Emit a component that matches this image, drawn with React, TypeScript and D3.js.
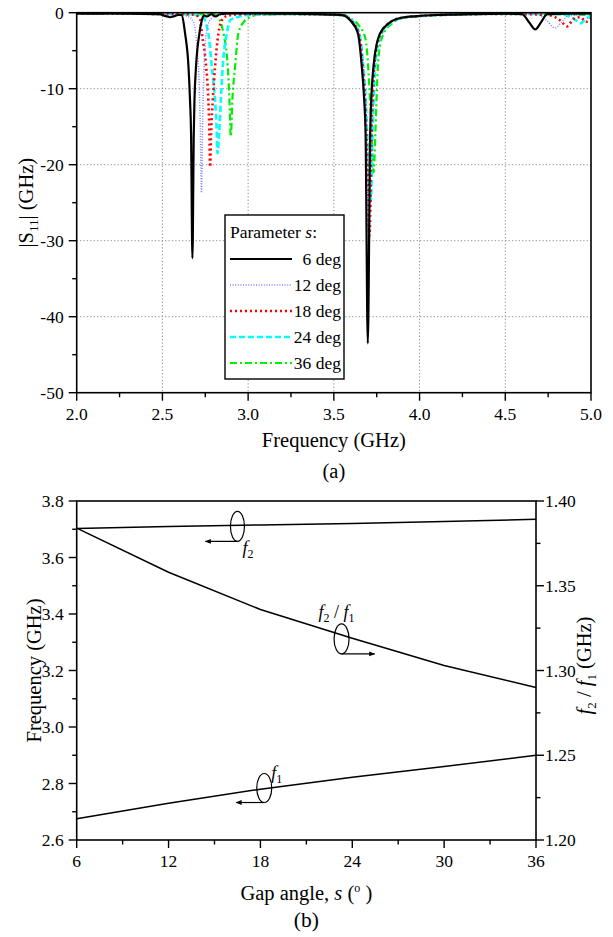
import React from 'react';
import * as d3 from 'd3';

// ---------- Data (a): |S11| vs frequency ----------
const FREQ_TICKS = [2.0, 2.5, 3.0, 3.5, 4.0, 4.5, 5.0];
const FREQ_MINOR = [2.25, 2.75, 3.25, 3.75, 4.25, 4.75];
const S11_TICKS = [0, -10, -20, -30, -40, -50];
const S11_MINOR = [-5, -15, -25, -35, -45];
const SERIES_NAMES = ['6 deg', '12 deg', '18 deg', '24 deg', '36 deg'];

const S_6: [number, number][] = [
  [2.0, -0.1], [2.1, -0.12], [2.2, -0.1], [2.3, -0.12], [2.4, -0.15], [2.48, -0.2], [2.52, -0.45], [2.545, -0.6],
  [2.57, -0.45], [2.59, -0.3], [2.613, -0.3], [2.632, -2.7], [2.652, -7.1], [2.661, -11.5], [2.667, -15.8],
  [2.675, -32.3], [2.683, -15.8], [2.687, -11.5], [2.696, -7.1], [2.716, -2.7], [2.73, -1.0], [2.743, -0.35],
  [2.76, -0.5], [2.785, -0.2], [2.81, -0.5], [2.835, -0.2], [2.9, -0.1], [3.0, -0.1], [3.1, -0.1], [3.2, -0.12],
  [3.3, -0.15], [3.4, -0.2], [3.5, -0.25], [3.555, -0.35], [3.595, -1.0], [3.64, -2.7], [3.663, -7.1],
  [3.677, -11.5], [3.685, -15.8], [3.698, -43.5], [3.712, -15.8], [3.718, -11.5], [3.731, -7.1], [3.751, -4.0],
  [3.77, -2.7], [3.82, -1.4], [3.887, -0.7], [3.985, -0.45], [4.1, -0.3], [4.2, -0.25], [4.3, -0.2], [4.4, -0.15],
  [4.5, -0.12], [4.598, -0.2], [4.64, -1.3], [4.675, -2.2], [4.71, -1.2], [4.744, -0.2], [4.8, -0.15], [4.9, -0.12],
  [5.0, -0.1],
];
const S_12: [number, number][] = [
  [2.0, -0.1], [2.2, -0.12], [2.4, -0.15], [2.5, -0.2], [2.6, -0.3], [2.65, -0.5], [2.68, -1.2], [2.7, -4.0],
  [2.712, -8.0], [2.72, -14.0], [2.728, -23.7], [2.735, -14.0], [2.742, -8.0], [2.75, -4.0], [2.762, -2.0],
  [2.78, -0.9], [2.81, -0.4], [2.9, -0.2], [3.0, -0.15], [3.2, -0.15], [3.4, -0.2], [3.5, -0.25], [3.555, -0.35],
  [3.6, -1.0], [3.645, -2.7], [3.668, -7.0], [3.682, -11.5], [3.69, -16.0], [3.704, -33.0], [3.716, -16.0],
  [3.722, -11.5], [3.734, -7.0], [3.753, -4.0], [3.773, -2.7], [3.82, -1.4], [3.89, -0.7], [3.99, -0.45],
  [4.2, -0.25], [4.5, -0.15], [4.68, -0.2], [4.74, -1.0], [4.79, -2.0], [4.83, -1.2], [4.87, -0.4], [4.95, -0.3],
  [5.0, -0.2],
];
const S_18: [number, number][] = [
  [2.0, -0.1], [2.2, -0.12], [2.4, -0.15], [2.55, -0.2], [2.65, -0.2], [2.7, -0.4], [2.72, -0.9], [2.73, -2.7],
  [2.755, -7.1], [2.768, -11.5], [2.774, -15.8], [2.778, -20.3], [2.784, -15.8], [2.794, -11.5], [2.807, -7.1],
  [2.827, -2.7], [2.846, -1.0], [2.88, -0.4], [2.95, -0.2], [3.1, -0.15], [3.3, -0.18], [3.5, -0.25],
  [3.555, -0.35], [3.6, -1.0], [3.645, -2.7], [3.668, -7.0], [3.682, -11.5], [3.69, -16.0], [3.708, -29.3],
  [3.72, -16.0], [3.726, -11.5], [3.736, -7.0], [3.755, -4.0], [3.775, -2.7], [3.82, -1.4], [3.89, -0.7],
  [3.99, -0.45], [4.2, -0.25], [4.5, -0.15], [4.75, -0.3], [4.82, -1.0], [4.86, -1.8], [4.9, -0.8], [4.94, -0.6],
  [4.97, -1.2], [5.0, -0.8],
];
const S_24: [number, number][] = [
  [2.0, -0.1], [2.2, -0.12], [2.4, -0.15], [2.6, -0.2], [2.7, -0.3], [2.74, -0.6], [2.755, -1.5], [2.768, -2.7],
  [2.788, -7.1], [2.807, -11.5], [2.817, -15.8], [2.821, -18.5], [2.831, -15.8], [2.841, -11.5], [2.852, -7.1],
  [2.876, -2.7], [2.895, -1.0], [2.95, -0.5], [3.0, -0.3], [3.2, -0.18], [3.4, -0.2], [3.5, -0.25], [3.56, -0.35],
  [3.6, -0.9], [3.648, -2.7], [3.672, -7.0], [3.686, -11.5], [3.695, -16.0], [3.716, -24.7], [3.726, -16.0],
  [3.732, -11.5], [3.742, -7.0], [3.76, -4.0], [3.78, -2.7], [3.83, -1.4], [3.9, -0.7], [4.0, -0.45],
  [4.2, -0.25], [4.5, -0.15], [4.8, -0.2], [4.85, -0.3], [4.9, -0.8], [4.94, -1.4], [4.97, -0.8], [5.0, -0.5],
];
const S_36: [number, number][] = [
  [2.0, -0.1], [2.2, -0.12], [2.4, -0.15], [2.6, -0.15], [2.75, -0.2], [2.8, -0.2], [2.83, -0.8], [2.856, -2.7],
  [2.881, -7.1], [2.891, -11.5], [2.899, -16.3], [2.908, -11.5], [2.924, -7.1], [2.943, -2.7], [2.983, -1.0],
  [3.01, -0.6], [3.05, -0.3], [3.2, -0.2], [3.4, -0.2], [3.5, -0.25], [3.56, -0.35], [3.6, -0.8], [3.65, -1.8],
  [3.685, -3.5], [3.7, -7.0], [3.712, -12.0], [3.72, -16.0], [3.732, -21.0], [3.742, -16.0], [3.748, -12.0],
  [3.757, -7.0], [3.772, -4.0], [3.792, -2.7], [3.84, -1.4], [3.9, -0.7], [4.0, -0.45], [4.2, -0.25],
  [4.5, -0.15], [4.8, -0.2], [5.0, -0.3],
];
const SERIES_DATA = [S_6, S_12, S_18, S_24, S_36];

// ---------- Data (b): resonant frequencies vs gap angle ----------
const GAP_ANGLES = [6, 12, 18, 24, 30, 36];
const F1 = [2.675, 2.73, 2.78, 2.822, 2.86, 2.9];
const F2 = [3.703, 3.71, 3.715, 3.72, 3.727, 3.735];
const RATIO = [1.384, 1.358, 1.336, 1.319, 1.303, 1.29];
const GAP_TICKS = [6, 12, 18, 24, 30, 36];
const GAP_MINOR = [9, 15, 21, 27, 33];
const FREQB_TICKS = [2.6, 2.8, 3.0, 3.2, 3.4, 3.6, 3.8];
const FREQB_MINOR = [2.7, 2.9, 3.1, 3.3, 3.5, 3.7];
const RATIO_TICKS = [1.2, 1.25, 1.3, 1.35, 1.4];
const RATIO_MINOR = [1.225, 1.275, 1.325, 1.375];

const FONT = "'Liberation Serif', 'Times New Roman', 'DejaVu Serif', serif";

const STYLES = [
  { stroke: '#000000', width: 2.2, dash: undefined as string | undefined },
  { stroke: '#8080ff', width: 1.5, dash: '1,1.6' },
  { stroke: '#ff0000', width: 2.6, dash: '2,3' },
  { stroke: '#00ffff', width: 2.6, dash: '6,3' },
  { stroke: '#00ee00', width: 2.2, dash: '7,3,2,3' },
];

export default function App() {
  // chart (a)
  const xA = d3.scaleLinear().domain([2, 5]).range([76.7, 591]);
  const yA = d3.scaleLinear().domain([0, -50]).range([12.7, 392.7]);
  const lineA = d3
    .line<[number, number]>()
    .x((d) => xA(d[0]))
    .y((d) => yA(d[1]))
    .curve(d3.curveMonotoneX);

  // chart (b)
  const xB = d3.scaleLinear().domain([6, 36]).range([76.7, 536]);
  const yL = d3.scaleLinear().domain([2.6, 3.8]).range([840, 501]);
  const yR = d3.scaleLinear().domain([1.2, 1.4]).range([840, 501]);
  const lineL = (vals: number[]) =>
    d3.line<number>().x((_, i) => xB(GAP_ANGLES[i])).y((v) => yL(v))(vals) || '';
  const lineR = (vals: number[]) =>
    d3.line<number>().x((_, i) => xB(GAP_ANGLES[i])).y((v) => yR(v))(vals) || '';

  const [ax0, ax1] = xA.range();
  const [ay0, ay1] = yA.range();
  const [bx0, bx1] = xB.range();
  const by0 = yL(3.8);
  const by1 = yL(2.6);

  const tickFs = 17.5;
  const titleFs = 20.5;
  const txt = { fontFamily: FONT };

  // legend
  const legX = 225, legY = 215, legW = 119, legH = 164;

  // annotations (data coordinates)
  const f2Ann = { s: 16.5, v: 3.71 };
  const rAnn = { s: 23.3, v: 1.3186 };
  const f1Ann = { s: 18.25, v: 2.784 };

  return (
    <svg
      width={613}
      height={937}
      style={{ position: 'absolute', left: 0, top: 0, background: '#fff', fontFamily: FONT }}
    >
      <defs>
        <clipPath id="clipA">
          <rect x={ax0} y={ay0} width={ax1 - ax0} height={ay1 - ay0} />
        </clipPath>
        <marker id="arr" viewBox="0 0 10 10" refX="9" refY="5" markerWidth="9" markerHeight="6" orient="auto" markerUnits="userSpaceOnUse">
          <path d="M0,1 L10,5 L0,9 Z" fill="#000" />
        </marker>
      </defs>
      <rect x={0} y={0} width={613} height={937} fill="#fff" />

      {/* ===== Chart (a) ===== */}
      <g stroke="#8a8a8a" strokeWidth={1} strokeDasharray="1.2,2.2">
        {FREQ_TICKS.slice(1, -1).map((t) => (
          <line key={'gx' + t} x1={xA(t)} x2={xA(t)} y1={ay0} y2={ay1} />
        ))}
        {S11_TICKS.slice(1, -1).map((t) => (
          <line key={'gy' + t} x1={ax0} x2={ax1} y1={yA(t)} y2={yA(t)} />
        ))}
      </g>
      <g clipPath="url(#clipA)" fill="none">
        {[4, 3, 2, 1, 0].map((i) => (
          <path
            key={'s' + i}
            d={lineA(SERIES_DATA[i]) || ''}
            stroke={STYLES[i].stroke}
            strokeWidth={STYLES[i].width}
            strokeDasharray={STYLES[i].dash}
          />
        ))}
      </g>
      <rect x={ax0} y={ay0} width={ax1 - ax0} height={ay1 - ay0} fill="none" stroke="#000" strokeWidth={1.6} />
      <g stroke="#000" strokeWidth={1.4}>
        {FREQ_TICKS.map((t) => (
          <line key={'xt' + t} x1={xA(t)} x2={xA(t)} y1={ay1} y2={ay1 + 8} />
        ))}
        {FREQ_MINOR.map((t) => (
          <line key={'xm' + t} x1={xA(t)} x2={xA(t)} y1={ay1} y2={ay1 + 4.5} />
        ))}
        {S11_TICKS.map((t) => (
          <line key={'yt' + t} x1={ax0 - 8} x2={ax0} y1={yA(t)} y2={yA(t)} />
        ))}
        {S11_MINOR.map((t) => (
          <line key={'ym' + t} x1={ax0 - 4.5} x2={ax0} y1={yA(t)} y2={yA(t)} />
        ))}
      </g>
      <g fontSize={tickFs} fill="#000" style={txt}>
        {FREQ_TICKS.map((t) => (
          <text key={'xl' + t} x={xA(t)} y={419.5} textAnchor="middle" style={txt}>
            {t.toFixed(1)}
          </text>
        ))}
        {S11_TICKS.map((t) => (
          <text key={'yl' + t} x={ax0 - 13} y={yA(t) + 6} textAnchor="end" style={txt}>
            {t}
          </text>
        ))}
      </g>
      <text x={(ax0 + ax1) / 2} y={447} textAnchor="middle" fontSize={titleFs} style={txt}>
        Frequency (GHz)
      </text>
      <text x={(ax0 + ax1) / 2} y={478} textAnchor="middle" fontSize={titleFs} style={txt}>
        (a)
      </text>
      <text transform={`translate(33,${(ay0 + ay1) / 2}) rotate(-90)`} textAnchor="middle" fontSize={titleFs} style={txt}>
        |S<tspan fontSize={13} dy={5}>11</tspan>
        <tspan dy={-5}>| (GHz)</tspan>
      </text>

      {/* legend */}
      <rect x={legX} y={legY} width={legW} height={legH} fill="#fff" stroke="#000" strokeWidth={1.4} />
      <text x={legX + 5} y={legY + 23} fontSize={tickFs} style={txt}>
        Parameter <tspan fontStyle="italic">s</tspan>:
      </text>
      {SERIES_NAMES.map((name, i) => {
        const yy = legY + 50 + i * 26;
        return (
          <g key={'leg' + i}>
            <line
              x1={legX + 5}
              x2={legX + 67}
              y1={yy - 6}
              y2={yy - 6}
              stroke={STYLES[i].stroke}
              strokeWidth={STYLES[i].width}
              strokeDasharray={STYLES[i].dash}
            />
            <text x={legX + legW - 3} y={yy} textAnchor="end" fontSize={tickFs} style={txt}>
              {name}
            </text>
          </g>
        );
      })}

      {/* ===== Chart (b) ===== */}
      <g fill="none" stroke="#000" strokeWidth={1.5}>
        <path d={lineL(F2)} />
        <path d={lineL(F1)} />
        <path d={lineR(RATIO)} />
      </g>
      <rect x={bx0} y={by0} width={bx1 - bx0} height={by1 - by0} fill="none" stroke="#000" strokeWidth={1.6} />
      <g stroke="#000" strokeWidth={1.4}>
        {GAP_TICKS.map((t) => (
          <line key={'bxt' + t} x1={xB(t)} x2={xB(t)} y1={by1} y2={by1 + 8} />
        ))}
        {GAP_MINOR.map((t) => (
          <line key={'bxm' + t} x1={xB(t)} x2={xB(t)} y1={by1} y2={by1 + 4.5} />
        ))}
        {FREQB_TICKS.map((t) => (
          <line key={'blt' + t} x1={bx0 - 8} x2={bx0} y1={yL(t)} y2={yL(t)} />
        ))}
        {FREQB_MINOR.map((t) => (
          <line key={'blm' + t} x1={bx0 - 4.5} x2={bx0} y1={yL(t)} y2={yL(t)} />
        ))}
        {RATIO_TICKS.map((t) => (
          <line key={'brt' + t} x1={bx1} x2={bx1 + 8} y1={yR(t)} y2={yR(t)} />
        ))}
        {RATIO_MINOR.map((t) => (
          <line key={'brm' + t} x1={bx1} x2={bx1 + 4.5} y1={yR(t)} y2={yR(t)} />
        ))}
      </g>
      <g fontSize={tickFs} fill="#000">
        {GAP_TICKS.map((t) => (
          <text key={'bxl' + t} x={xB(t)} y={867} textAnchor="middle" style={txt}>
            {t}
          </text>
        ))}
        {FREQB_TICKS.map((t) => (
          <text key={'bll' + t} x={bx0 - 13} y={yL(t) + 6} textAnchor="end" style={txt}>
            {t.toFixed(1)}
          </text>
        ))}
        {RATIO_TICKS.map((t) => (
          <text key={'brl' + t} x={bx1 + 9} y={yR(t) + 6} textAnchor="start" style={txt}>
            {t.toFixed(2)}
          </text>
        ))}
      </g>
      <text x={(bx0 + bx1) / 2} y={900} textAnchor="middle" fontSize={titleFs} style={txt}>
        Gap angle, <tspan fontStyle="italic">s</tspan> (
        <tspan fontSize={12} dy={-8}>o</tspan>
        <tspan dy={8}> )</tspan>
      </text>
      <text x={(bx0 + bx1) / 2} y={927} textAnchor="middle" fontSize={titleFs + 1} style={txt}>
        (b)
      </text>
      <text transform={`translate(41,${(by0 + by1) / 2}) rotate(-90)`} textAnchor="middle" fontSize={titleFs} style={txt}>
        Frequency (GHz)
      </text>
      <text transform={`translate(591,${(by0 + by1) / 2 - 5}) rotate(-90)`} textAnchor="middle" fontSize={titleFs} style={txt}>
        <tspan fontStyle="italic">f</tspan>
        <tspan fontSize={13} dy={5}>2</tspan>
        <tspan dy={-5}> / </tspan>
        <tspan fontStyle="italic">f</tspan>
        <tspan fontSize={13} dy={5}>1</tspan>
        <tspan dy={-5}> (GHz)</tspan>
      </text>

      {/* annotations */}
      <g fill="none" stroke="#000" strokeWidth={1.2}>
        <ellipse cx={xB(f2Ann.s)} cy={yL(f2Ann.v)} rx={7} ry={15} />
        <line x1={xB(f2Ann.s)} y1={yL(f2Ann.v) + 15} x2={xB(f2Ann.s) - 32} y2={yL(f2Ann.v) + 15} markerEnd="url(#arr)" />
        <ellipse cx={xB(rAnn.s)} cy={yR(rAnn.v)} rx={7.5} ry={15} />
        <line x1={xB(rAnn.s)} y1={yR(rAnn.v) + 15} x2={xB(rAnn.s) + 33} y2={yR(rAnn.v) + 15} markerEnd="url(#arr)" />
        <ellipse cx={xB(f1Ann.s)} cy={yL(f1Ann.v)} rx={7.5} ry={14.5} />
        <line x1={xB(f1Ann.s)} y1={yL(f1Ann.v) + 14.5} x2={xB(f1Ann.s) - 28} y2={yL(f1Ann.v) + 14.5} markerEnd="url(#arr)" />
      </g>
      <g fontSize={18} fill="#000">
        <text x={xB(f2Ann.s) + 5} y={yL(f2Ann.v) + 28} style={txt}>
          <tspan fontStyle="italic">f</tspan>
          <tspan fontSize={12} dy={4}>2</tspan>
        </text>
        <text x={xB(rAnn.s) - 23} y={yR(rAnn.v) - 21} style={txt}>
          <tspan fontStyle="italic">f</tspan>
          <tspan fontSize={12} dy={4}>2</tspan>
          <tspan dy={-4}> / </tspan>
          <tspan fontStyle="italic">f</tspan>
          <tspan fontSize={12} dy={4}>1</tspan>
        </text>
        <text x={xB(f1Ann.s) + 7} y={yL(f1Ann.v) - 9} style={txt}>
          <tspan fontStyle="italic">f</tspan>
          <tspan fontSize={12} dy={4}>1</tspan>
        </text>
      </g>
    </svg>
  );
}
